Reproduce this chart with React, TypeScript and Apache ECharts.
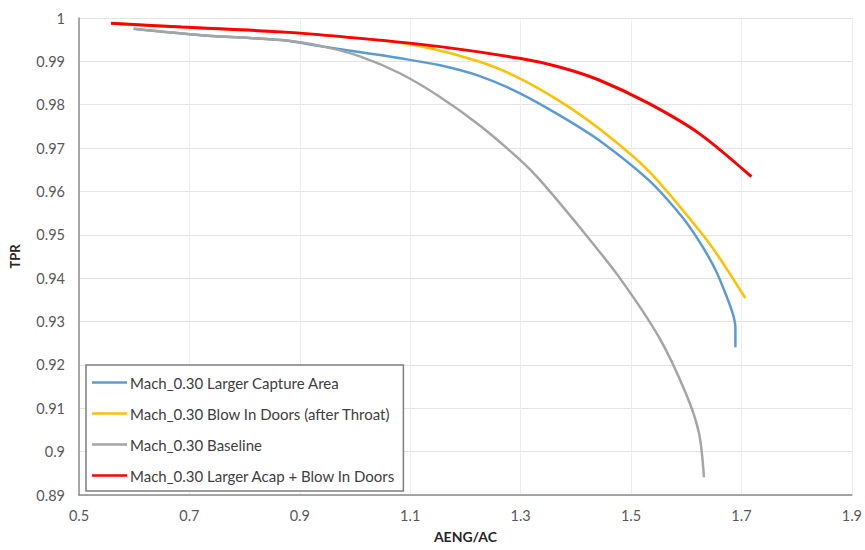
import React, { useEffect, useRef } from "react";
import * as echarts from "echarts";

const seriesNames = [
  "Mach_0.30 Larger Capture Area",
  "Mach_0.30 Blow In Doors (after Throat)",
  "Mach_0.30 Baseline",
  "Mach_0.30 Larger Acap + Blow In Doors",
];
const seriesColors = ["#5B9BD5", "#FFC000", "#A5A5A5", "#FF0000"];

const blueData: [number, number][] = [
  [0.599, 0.9975], [0.722, 0.996], [0.866, 0.9949], [0.943, 0.9934], [1.01, 0.9921],
  [1.082, 0.9907], [1.154, 0.9891], [1.226, 0.9866], [1.298, 0.9827], [1.37, 0.9776],
  [1.442, 0.9718], [1.532, 0.9626], [1.59, 0.9545], [1.623, 0.9486], [1.653, 0.9419],
  [1.674, 0.9355], [1.685, 0.9315], [1.689, 0.9285], [1.689, 0.9241],
];
const yellowData: [number, number][] = [
  [0.558, 0.9988], [0.686, 0.9979], [0.866, 0.9968], [1.01, 0.9953], [1.118, 0.9935],
  [1.226, 0.9899], [1.298, 0.9861], [1.37, 0.9809], [1.442, 0.9745], [1.532, 0.9647],
  [1.623, 0.9511], [1.659, 0.9449], [1.707, 0.9354],
];
const grayData: [number, number][] = [
  [0.599, 0.9975], [0.722, 0.996], [0.866, 0.9949], [0.943, 0.9934], [1.01, 0.9911],
  [1.082, 0.9872], [1.154, 0.9818], [1.226, 0.9752], [1.298, 0.9674], [1.334, 0.9628],
  [1.406, 0.9519], [1.478, 0.9403], [1.55, 0.9265], [1.599, 0.9135], [1.623, 0.9043],
  [1.632, 0.8941],
];
const redData: [number, number][] = [
  [0.558, 0.9988], [0.686, 0.9979], [0.866, 0.9968], [1.01, 0.9953], [1.154, 0.9934],
  [1.298, 0.9907], [1.37, 0.9887], [1.442, 0.9857], [1.532, 0.9803], [1.623, 0.9734],
  [1.718, 0.9634],
];
const allData = [blueData, yellowData, grayData, redData];

const xTitle = "AENG/AC";
const yTitle = "TPR";

export default function App() {
  const ref = useRef<HTMLDivElement>(null);
  useEffect(() => {
    if (!ref.current) return;
    const chart = echarts.init(ref.current, undefined, { renderer: "svg" });
    const font = "Lato, 'Open Sans', sans-serif";
    chart.setOption({
      animation: false,
      backgroundColor: "#ffffff",
      grid: { left: 77, right: 11, top: 18, bottom: 55, containLabel: false },
      xAxis: {
        type: "value",
        min: 0.5,
        max: 1.9,
        interval: 0.2,
        name: xTitle,
        nameLocation: "middle",
        nameGap: 34,
        nameTextStyle: { fontFamily: font, fontSize: 14, fontWeight: "bold", color: "#262626" },
        axisLine: { show: true, lineStyle: { color: "#8c8c8c", width: 1.5 } },
        axisTick: { show: false },
        axisLabel: {
          fontFamily: font, fontSize: 14.5, color: "#595959", margin: 13,
          formatter: (v: number) => String(Math.round(v * 10) / 10),
        },
        splitLine: { show: true, lineStyle: { color: "#eeeeee", width: 1 } },
      },
      yAxis: {
        type: "value",
        min: 0.89,
        max: 1,
        interval: 0.01,
        name: yTitle,
        nameLocation: "middle",
        nameGap: 58,
        nameTextStyle: { fontFamily: font, fontSize: 13, fontWeight: "bold", color: "#262626" },
        axisLine: { show: true, lineStyle: { color: "#8c8c8c", width: 1.5 } },
        axisTick: { show: false },
        axisLabel: {
          fontFamily: font, fontSize: 14.5, color: "#595959", margin: 14,
          formatter: (v: number) => String(Math.round(v * 100) / 100),
        },
        splitLine: { show: true, lineStyle: { color: "#e4e4e4", width: 1 } },
      },
      legend: {
        show: true,
        orient: "vertical",
        left: 86,
        top: 365,
        width: 318,
        data: seriesNames,
        icon: "rect",
        itemWidth: 35,
        itemHeight: 2.5,
        itemGap: 16,
        padding: [10, 8, 8, 6],
        borderColor: "#7f7f7f",
        borderWidth: 1.5,
        backgroundColor: "#ffffff",
        textStyle: { fontFamily: font, fontSize: 15, color: "#404040", padding: [0, 0, 0, -2] },
      },
      series: allData.map((d, i) => ({
        name: seriesNames[i],
        type: "line",
        data: d,
        smooth: 0.3,
        showSymbol: false,
        symbol: "none",
        color: seriesColors[i],
        lineStyle: { color: seriesColors[i], width: i === 3 ? 3 : 2.5 },
        z: i + 2,
      })),
    });
    return () => chart.dispose();
  }, []);
  return <div ref={ref} style={{ width: 865, height: 550, position: "absolute", left: 0, top: 0 }} />;
}
